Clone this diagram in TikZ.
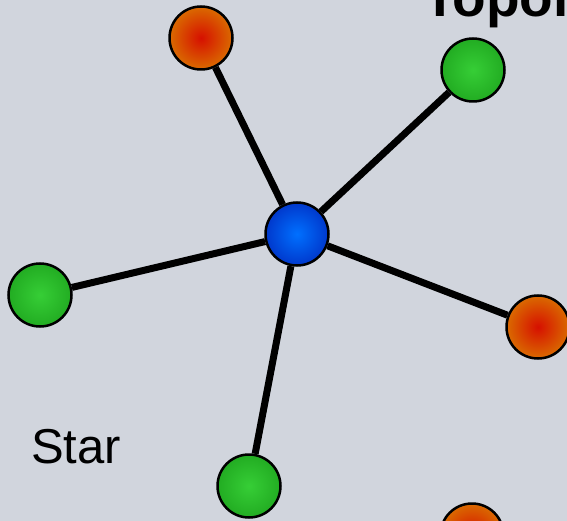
\documentclass[tikz,border=0pt]{standalone}
\usepackage{fontspec}
\setmainfont{Liberation Sans}
\usetikzlibrary{backgrounds}
\definecolor{fondo}{RGB}{209,213,221}
\definecolor{naranjaborde}{RGB}{218,106,0}
\definecolor{naranjacentro}{RGB}{214,16,0}
\definecolor{verdeborde}{RGB}{34,172,34}
\definecolor{verdecentro}{RGB}{54,206,54}
\definecolor{azulborde}{RGB}{0,56,204}
\definecolor{azulcentro}{RGB}{0,112,255}

\begin{document}
\begin{tikzpicture}[x=1pt,y=-1pt,
  nodo/.style={circle, draw=black, line width=2.5pt, minimum size=63pt, inner sep=0pt},
  central/.style={nodo, inner color=azulcentro, outer color=azulborde},
  naranja/.style={nodo, inner color=naranjacentro, outer color=naranjaborde},
  verde/.style={nodo, inner color=verdecentro, outer color=verdeborde},
  enlace/.style={line width=7pt}]

\useasboundingbox (0,0) rectangle (567,521);

% nodos de la estrella
\node[central] (Hub) at (297,234) {};
\node[naranja] (Arriba) at (201,38) {};
\node[verde] (ArribaDer) at (473,70) {};
\node[verde] (Izq) at (40,295) {};
\node[naranja] (Der) at (538,327) {};
\node[verde] (Abajo) at (249,486) {};
\node[naranja] (AbajoDer) at (472,535) {};

% titulo y etiqueta
\node[anchor=base west, inner sep=0pt, font=\fontsize{55}{64}\selectfont\bfseries] (Titulo) at (423,17) {Topology};
\node[anchor=base west, inner sep=0pt, font=\fontsize{49}{58}\selectfont] (Etiqueta) at (31,463) {Star};

\begin{scope}[on background layer]
  \fill[fondo] (0,0) rectangle (567,521);
  \draw[enlace] (Hub) -- (Arriba);
  \draw[enlace] (Hub) -- (ArribaDer);
  \draw[enlace] (Hub) -- (Izq);
  \draw[enlace] (Hub) -- (Der);
  \draw[enlace] (Hub) -- (Abajo);
\end{scope}

\end{tikzpicture}
\end{document}
